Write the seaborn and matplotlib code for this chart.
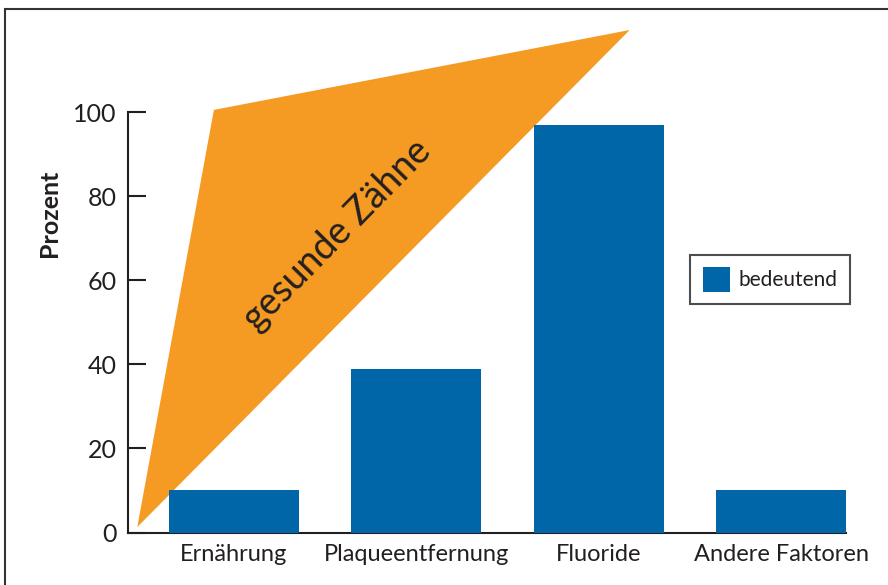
import matplotlib
matplotlib.use("Agg")
import matplotlib.pyplot as plt
from matplotlib.patches import Polygon, Rectangle
import seaborn as sns
import pandas as pd

categories = ["Ernährung", "Plaqueentfernung", "Fluoride", "Andere Faktoren"]
values = [10, 39, 97, 10]
series_label = "bedeutend"
y_ticks = [0, 20, 40, 60, 80, 100]
y_label = "Prozent"
banner_text = "gesunde Zähne"
# decorative triangle, (category position, percent)
banner_x = [-0.53, -0.11, 2.17]
banner_y = [1.3, 100.5, 119.5]

BLUE = "#0066A8"
ORANGE = "#F59A22"
DARK = "#231F20"

sns.set_theme(style="white")
plt.rcParams["font.family"] = ["Lato", "DejaVu Sans"]

fig = plt.figure(figsize=(8.88, 5.85), dpi=100)
ax = fig.add_axes([128 / 888, 52.5 / 585, (846 - 128) / 888, (532.5 - 112) / 585])

df = pd.DataFrame({"Kategorie": categories, "Prozent": values})

tri = Polygon(list(zip(banner_x, banner_y)), closed=True, facecolor=ORANGE,
              edgecolor="none", zorder=0.5, clip_on=False)
ax.add_patch(tri)

sns.barplot(data=df, x="Kategorie", y="Prozent", color=BLUE, saturation=1,
            width=0.712, label=series_label, ax=ax, zorder=2, linewidth=0,
            edgecolor="none")
for p in ax.patches:
    p.set_clip_on(False)

ax.set_xlim(-0.581, 3.356)
ax.set_ylim(0, 100)
ax.set_yticks(y_ticks)
ax.set_xlabel("")
ax.set_ylabel(y_label, fontsize=18, fontweight="bold", color=DARK)
ax.yaxis.set_label_coords(-0.093, 0.76)

for s in ["top", "right"]:
    ax.spines[s].set_visible(False)
for s in ["left", "bottom"]:
    ax.spines[s].set_color(DARK)
    ax.spines[s].set_linewidth(1.5)
    ax.spines[s].set_zorder(1)

ax.tick_params(axis="y", direction="in", length=13, width=1.5, color=DARK,
               labelsize=18, labelcolor=DARK, pad=8, left=True)
ax.tick_params(axis="x", length=0, labelsize=17, labelcolor=DARK, pad=8)

ax.text(0.564, 70.7, banner_text, rotation=45.5, fontsize=27, color=DARK,
        ha="center", va="center", zorder=3)

leg = ax.legend(loc="upper left", bbox_to_anchor=(0.783, 0.66), borderaxespad=0,
                fontsize=15, frameon=True, fancybox=False, handlelength=1.3,
                handleheight=1.4, handletextpad=0.4, borderpad=0.6)
leg.get_frame().set_edgecolor(DARK)
leg.get_frame().set_linewidth(1.5)
for t in leg.get_texts():
    t.set_color(DARK)

fig.patches.append(Rectangle((5 / 888, -0.1), 1.2, (585 - 9) / 585 + 0.1,
                             transform=fig.transFigure, fill=False,
                             edgecolor="#333333", linewidth=1.5))

fig.savefig("out.png", dpi=100)
